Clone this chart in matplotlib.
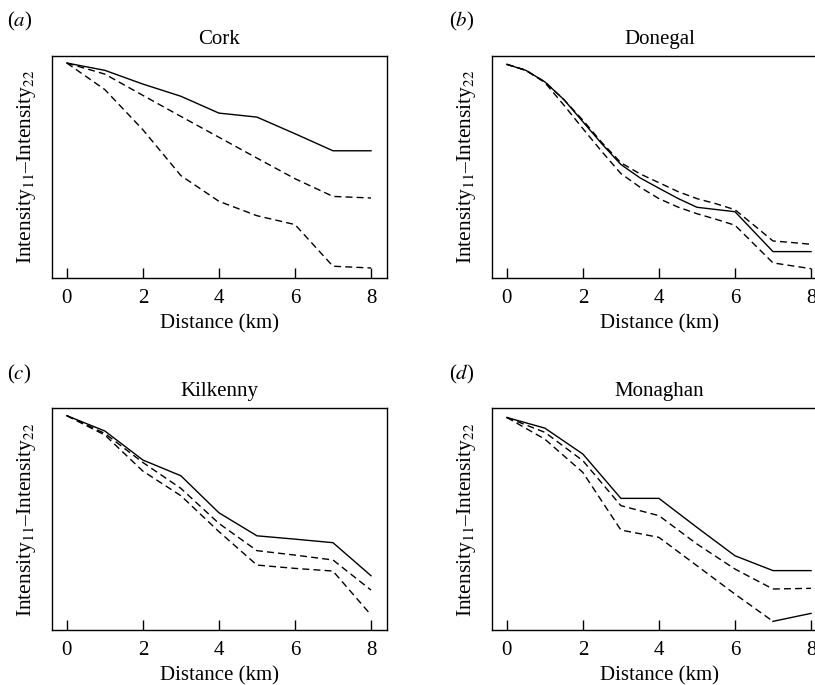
import numpy as np
import matplotlib
matplotlib.use("Agg")
import matplotlib.pyplot as plt

plt.rcParams['font.family'] = ['Liberation Serif', 'DejaVu Serif']
plt.rcParams['mathtext.fontset'] = 'stix'

distance = [0, 1, 2, 3, 4, 5, 6, 7, 8]
# Donegal curves are smooth, read at half-km steps
distance_fine = [0, 0.5, 1, 1.5, 2, 2.5, 3, 3.5, 4, 4.5, 5, 5.5, 6, 6.5, 7, 7.5, 8]

counties = ['Cork', 'Donegal', 'Kilkenny', 'Monaghan']
panel_tags = ['a', 'b', 'c', 'd']

# relative intensity difference (no y scale in the original)
cork_est = [0.970, 0.937, 0.875, 0.820, 0.744, 0.726, 0.651, 0.574, 0.574]
cork_upper = [0.970, 0.920, 0.824, 0.729, 0.635, 0.541, 0.448, 0.368, 0.361]
cork_lower = [0.970, 0.850, 0.669, 0.462, 0.346, 0.281, 0.241, 0.053, 0.045]

donegal_est = [0.964, 0.937, 0.885, 0.805, 0.705, 0.605, 0.512, 0.452, 0.405,
               0.359, 0.319, 0.309, 0.299, 0.209, 0.119, 0.119, 0.119]
donegal_upper = [0.964, 0.937, 0.885, 0.805, 0.712, 0.611, 0.520, 0.470, 0.430,
                 0.390, 0.358, 0.335, 0.308, 0.238, 0.167, 0.160, 0.152]
donegal_lower = [0.964, 0.937, 0.882, 0.780, 0.674, 0.570, 0.471, 0.410, 0.358,
                 0.320, 0.290, 0.265, 0.238, 0.153, 0.068, 0.055, 0.042]

kilkenny_est = [0.967, 0.898, 0.767, 0.696, 0.529, 0.425, 0.410, 0.394, 0.245]
kilkenny_upper = [0.967, 0.887, 0.756, 0.639, 0.481, 0.358, 0.338, 0.316, 0.180]
kilkenny_lower = [0.967, 0.880, 0.717, 0.606, 0.444, 0.293, 0.278, 0.266, 0.068]

monaghan_est = [0.959, 0.911, 0.794, 0.594, 0.594, 0.463, 0.335, 0.268, 0.268]
monaghan_upper = [0.959, 0.892, 0.764, 0.561, 0.516, 0.388, 0.275, 0.185, 0.188]
monaghan_lower = [0.959, 0.861, 0.711, 0.451, 0.418, 0.290, 0.162, 0.039, 0.075]

estimates = [cork_est, donegal_est, kilkenny_est, monaghan_est]
uppers = [cork_upper, donegal_upper, kilkenny_upper, monaghan_upper]
lowers = [cork_lower, donegal_lower, kilkenny_lower, monaghan_lower]
xs = [distance, distance_fine, distance, distance]

fig = plt.figure(figsize=(8.15, 6.85), dpi=100)

w, h = 0.411, 0.3235
positions = [(0.0638, 0.5942), (0.6037, 0.5942), (0.0638, 0.0803), (0.6037, 0.0803)]
tag_pos = [(0.008, 0.968), (0.551, 0.968), (0.008, 0.453), (0.551, 0.453)]

dash = (0, (5, 3))
for i in range(4):
    ax = fig.add_axes([positions[i][0], positions[i][1], w, h])
    x = np.array(xs[i])
    ax.plot(x, estimates[i], color='black', lw=1.0)
    ax.plot(x, uppers[i], color='black', lw=1.0, linestyle=dash)
    if counties[i] == 'Monaghan':
        # last segment of the lower curve is drawn solid in the original
        ax.plot(x[:8], lowers[i][:8], color='black', lw=1.0, linestyle=dash)
        ax.plot(x[7:], lowers[i][7:], color='black', lw=1.0)
    else:
        ax.plot(x, lowers[i], color='black', lw=1.0, linestyle=dash)
    ax.set_xlim(-0.39, 8.42)
    ax.set_ylim(0, 1)
    ax.set_xticks([0, 2, 4, 6, 8])
    ax.set_yticks([])
    ax.tick_params(axis='x', direction='in', length=7, width=1, pad=8, labelsize=15)
    for s in ax.spines.values():
        s.set_linewidth(1.0)
    ax.set_title(counties[i], fontsize=15, pad=9)
    ax.set_xlabel('Distance (km)', fontsize=15, labelpad=4.5)
    ax.set_ylabel(r'Intensity$_{11}$–Intensity$_{22}$', fontsize=15.5, labelpad=10)
    fig.text(tag_pos[i][0], tag_pos[i][1], r'($\mathit{' + panel_tags[i] + '}$)', fontsize=15, va='center')

fig.savefig('out.png', dpi=100)
